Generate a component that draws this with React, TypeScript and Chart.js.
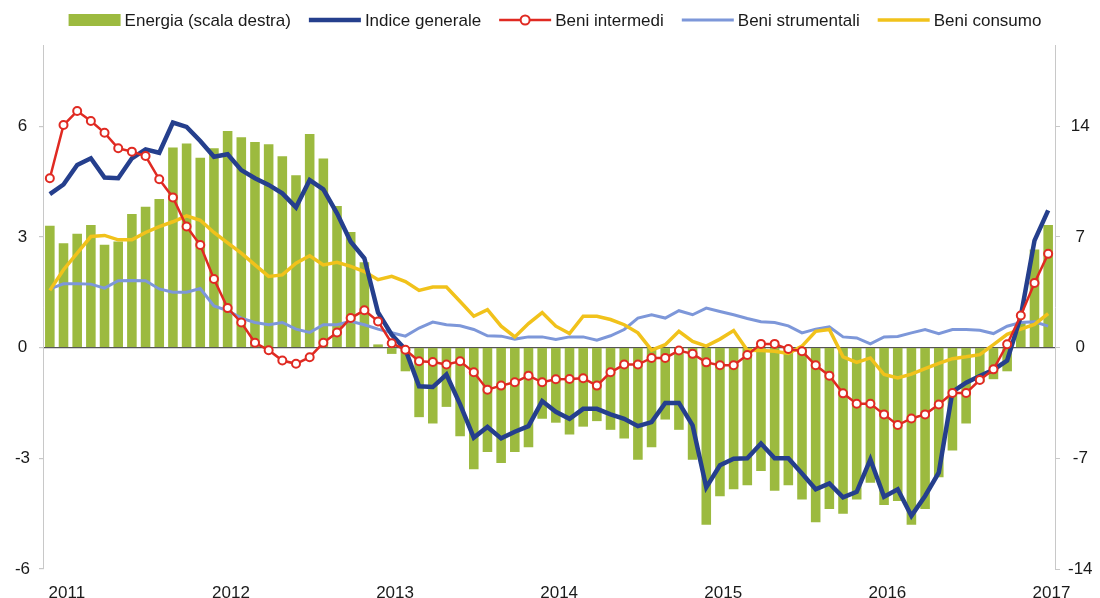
import React, { useEffect, useRef } from "react";
import { Chart, registerables } from "chart.js";

Chart.register(...registerables);

// ---- Data ----
const YEARS = ["2011", "2012", "2013", "2014", "2015", "2016", "2017"];
const MONTHS = ["01", "02", "03", "04", "05", "06", "07", "08", "09", "10", "11", "12"];
// Monthly categories: Jan 2011 – Feb 2017 (74 months)
const categories: string[] = YEARS.flatMap((y) => MONTHS.map((m) => `${y}-${m}`)).slice(0, 74);

const leftTicks = [-6, -3, 0, 3, 6];
const rightTicks = [-14, -7, 0, 7, 14];

const energia = [
  7.7, 6.6, 7.2, 7.75, 6.5, 6.7, 8.45, 8.9, 9.4, 12.65, 12.9, 12.0,
  12.6, 13.7, 13.3, 13.0, 12.85, 12.1, 10.9, 13.5, 11.95, 8.95, 7.3, 5.4,
  0.2, -0.4, -1.5, -4.4, -4.8, -3.75, -5.6, -7.7, -6.6, -7.3, -6.6, -6.3,
  -4.5, -4.75, -5.5, -5.0, -4.65, -5.2, -5.75, -7.1, -6.3, -4.55, -5.2, -7.1,
  -11.2, -9.4, -8.95, -8.7, -7.8, -9.05, -8.7, -9.6, -11.05, -10.2, -10.5, -9.6,
  -8.55, -9.95, -9.7, -11.2, -10.2, -8.2, -6.5, -4.8, -2.2, -2.0, -1.5, 1.6,
  6.2, 7.75,
];

const indiceGenerale = [
  4.16, 4.42, 4.95, 5.13, 4.61, 4.59, 5.13, 5.37, 5.28, 6.1, 5.98, 5.6,
  5.17, 5.24, 4.81, 4.59, 4.41, 4.18, 3.8, 4.54, 4.29, 3.64, 2.87, 2.42,
  0.95, 0.35, -0.05, -1.05, -1.07, -0.73, -1.54, -2.44, -2.15, -2.46, -2.28, -2.13,
  -1.45, -1.74, -1.93, -1.66, -1.66, -1.81, -1.93, -2.13, -2.02, -1.5, -1.5, -2.11,
  -3.79, -3.19, -3.01, -3.0, -2.6, -3.0, -3.0, -3.41, -3.84, -3.68, -4.06, -3.91,
  -3.03, -4.04, -3.84, -4.56, -4.02, -3.39, -1.2, -0.95, -0.77, -0.6, -0.35, 0.85,
  2.9, 3.72,
];

const beniIntermedi = [
  4.59, 6.03, 6.41, 6.14, 5.82, 5.4, 5.31, 5.19, 4.56, 4.07, 3.28, 2.78,
  1.86, 1.07, 0.68, 0.13, -0.07, -0.35, -0.44, -0.26, 0.13, 0.41, 0.8, 1.01,
  0.71, 0.12, -0.06, -0.37, -0.39, -0.46, -0.37, -0.67, -1.14, -1.03, -0.94, -0.76,
  -0.94, -0.86, -0.85, -0.83, -1.03, -0.67, -0.46, -0.46, -0.28, -0.28, -0.08, -0.17,
  -0.4, -0.48, -0.48, -0.2, 0.1, 0.1, -0.04, -0.1, -0.48, -0.76, -1.24, -1.52,
  -1.52, -1.81, -2.1, -1.92, -1.81, -1.54, -1.23, -1.23, -0.88, -0.59, 0.09, 0.87,
  1.75, 2.54,
];

const beniStrumentali = [
  1.59, 1.73, 1.73, 1.72, 1.61, 1.81, 1.82, 1.81, 1.59, 1.5, 1.5, 1.6,
  1.13, 1.0, 0.8, 0.68, 0.62, 0.68, 0.5, 0.41, 0.62, 0.62, 0.71, 0.62,
  0.5, 0.4, 0.31, 0.53, 0.69, 0.62, 0.59, 0.49, 0.32, 0.31, 0.23, 0.29,
  0.29, 0.22, 0.29, 0.29, 0.2, 0.32, 0.49, 0.8, 0.89, 0.8, 1.0, 0.89,
  1.07, 0.98, 0.89, 0.79, 0.7, 0.68, 0.59, 0.4, 0.5, 0.56, 0.29, 0.26,
  0.1, 0.29, 0.3, 0.4, 0.49, 0.38, 0.49, 0.49, 0.47, 0.38, 0.58, 0.68,
  0.7, 0.58,
];

const beniConsumo = [
  1.55, 2.11, 2.56, 3.01, 3.04, 2.92, 2.92, 3.12, 3.28, 3.41, 3.57, 3.45,
  3.12, 2.84, 2.56, 2.24, 1.93, 1.97, 2.29, 2.49, 2.24, 2.31, 2.2, 2.06,
  1.84, 1.93, 1.79, 1.55, 1.64, 1.64, 1.25, 0.85, 1.03, 0.58, 0.29, 0.65,
  0.95, 0.58, 0.38, 0.85, 0.85, 0.76, 0.62, 0.4, -0.07, 0.08, 0.44, 0.17,
  0.04, 0.23, 0.46, -0.07, -0.08, -0.1, -0.16, 0.04, 0.44, 0.49, -0.25, -0.4,
  -0.28, -0.73, -0.82, -0.72, -0.57, -0.43, -0.3, -0.25, -0.19, 0.08, 0.36, 0.5,
  0.63, 0.92,
];

// ---- Styles ----
const GREEN = "#9cba3f";
const NAVY = "#253f8d";
const RED = "#e02a22";
const LIGHTBLUE = "#7d97d9";
const YELLOW = "#f1c21b";
const FONT = "'Liberation Sans', Arial, sans-serif";
const FONT_SIZE = 17;
const TEXT = "#1a1a1a";

const legendPlugin = {
  id: "customLegend",
  afterDraw(chart: any) {
    const ctx = chart.ctx as CanvasRenderingContext2D;
    ctx.save();
    ctx.font = `${FONT_SIZE}px ${FONT}`;
    const symW = 52;
    const gapT = 4;
    const gapI = 18;
    const ds = chart.data.datasets as any[];
    const items = ds.map((d) => ({ d, w: symW + gapT + ctx.measureText(d.label).width }));
    const total = items.reduce((s, it) => s + it.w, 0) + gapI * (items.length - 1);
    let x = chart.width / 2 + 5 - total / 2;
    const y = 20;
    items.forEach(({ d, w }) => {
      if (d.type === "bar") {
        ctx.fillStyle = d.backgroundColor;
        ctx.fillRect(x, y - 6, symW, 12);
      } else {
        ctx.strokeStyle = d.borderColor;
        ctx.lineWidth = d.borderWidth;
        ctx.beginPath();
        ctx.moveTo(x, y);
        ctx.lineTo(x + symW, y);
        ctx.stroke();
        if (d.pointRadius > 0) {
          ctx.beginPath();
          ctx.arc(x + symW / 2, y, d.pointRadius + 0.5, 0, Math.PI * 2);
          ctx.fillStyle = "#ffffff";
          ctx.fill();
          ctx.lineWidth = d.pointBorderWidth;
          ctx.strokeStyle = d.pointBorderColor;
          ctx.stroke();
        }
      }
      ctx.fillStyle = TEXT;
      ctx.textBaseline = "middle";
      ctx.textAlign = "left";
      ctx.fillText(d.label, x + symW + gapT, y + 1);
      x += w + gapI;
    });
    ctx.restore();
  },
};

export default function App() {
  const canvasRef = useRef<HTMLCanvasElement | null>(null);

  useEffect(() => {
    document.body.style.margin = "0";
    const canvas = canvasRef.current;
    if (!canvas) return;
    const chart = new Chart(canvas, {
      data: {
        labels: categories,
        datasets: [
          {
            type: "bar",
            label: "Energia (scala destra)",
            data: energia,
            yAxisID: "yR",
            backgroundColor: GREEN,
            barPercentage: 0.7,
            categoryPercentage: 1,
            order: 10,
          },
          {
            type: "line",
            label: "Indice generale",
            data: indiceGenerale,
            yAxisID: "yL",
            borderColor: NAVY,
            borderWidth: 4.5,
            pointRadius: 0,
            tension: 0,
            order: 2,
          },
          {
            type: "line",
            label: "Beni intermedi",
            data: beniIntermedi,
            yAxisID: "yL",
            borderColor: RED,
            borderWidth: 2.5,
            pointRadius: 4,
            pointBackgroundColor: "#ffffff",
            pointBorderColor: RED,
            pointBorderWidth: 2,
            tension: 0,
            order: 1,
          },
          {
            type: "line",
            label: "Beni strumentali",
            data: beniStrumentali,
            yAxisID: "yL",
            borderColor: LIGHTBLUE,
            borderWidth: 3,
            pointRadius: 0,
            tension: 0,
            order: 4,
          },
          {
            type: "line",
            label: "Beni consumo",
            data: beniConsumo,
            yAxisID: "yL",
            borderColor: YELLOW,
            borderWidth: 3.5,
            pointRadius: 0,
            tension: 0,
            order: 3,
          },
        ] as any,
      },
      options: {
        responsive: false,
        animation: false,
        devicePixelRatio: 1,
        layout: { padding: { top: 45, left: 0, right: 0, bottom: 0 } },
        plugins: {
          legend: { display: false },
          tooltip: { enabled: false },
        },
        scales: {
          x: {
            type: "category",
            offset: true,
            grid: { display: false },
            border: { display: false },
            ticks: {
              autoSkip: false,
              maxRotation: 0,
              minRotation: 0,
              labelOffset: 17,
              padding: 6,
              color: TEXT,
              font: { family: FONT, size: FONT_SIZE },
              callback: (_v: any, i: number) => (i % 12 === 0 ? categories[i].slice(0, 4) : ""),
            },
            afterFit: (s: any) => {
              s.height = 29;
            },
          },
          yL: {
            type: "linear",
            position: "left",
            min: -6,
            max: 8.2,
            afterBuildTicks: (s: any) => {
              s.ticks = leftTicks.map((v) => ({ value: v }));
            },
            afterFit: (s: any) => {
              s.width = 43;
            },
            grid: {
              color: (c: any) => (c.tick && c.tick.value === 0 ? "#555555" : "rgba(0,0,0,0)"),
              lineWidth: 1.2,
              tickColor: "#c8c8c8",
              tickLength: 4,
            },
            border: { display: true, color: "#c8c8c8", width: 1 },
            ticks: {
              padding: 9,
              crossAlign: "center",
              color: TEXT,
              font: { family: FONT, size: FONT_SIZE },
              callback: (v: any) => String(v),
            },
          },
          yR: {
            type: "linear",
            position: "right",
            min: -14,
            max: 19.13,
            afterBuildTicks: (s: any) => {
              s.ticks = rightTicks.map((v) => ({ value: v }));
            },
            afterFit: (s: any) => {
              s.width = 45;
            },
            grid: {
              drawOnChartArea: false,
              tickColor: "#c8c8c8",
              tickLength: 5,
            },
            border: { display: true, color: "#c8c8c8", width: 1 },
            ticks: {
              padding: 8,
              crossAlign: "center",
              color: TEXT,
              font: { family: FONT, size: FONT_SIZE },
              callback: (v: any) => String(v),
            },
          },
        },
      } as any,
      plugins: [legendPlugin],
    });
    return () => chart.destroy();
  }, []);

  return (
    <div style={{ width: 1100, height: 598, background: "#ffffff" }}>
      <canvas ref={canvasRef} width={1100} height={598} style={{ display: "block" }} />
    </div>
  );
}
